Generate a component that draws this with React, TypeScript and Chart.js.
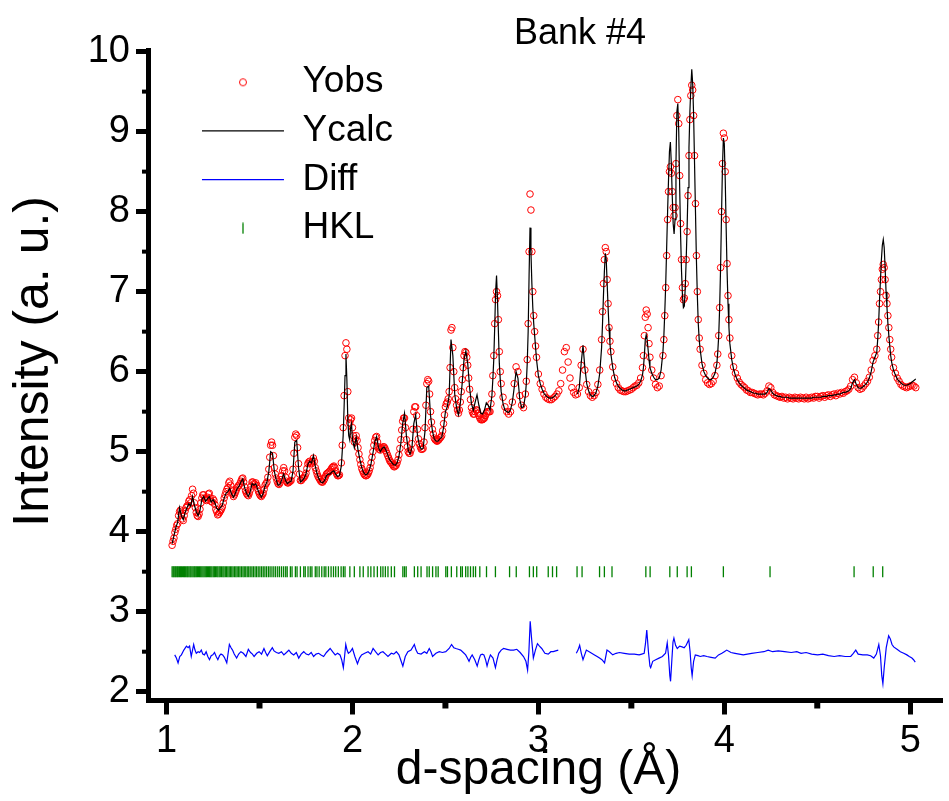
import { useEffect, useRef } from 'react';
import { Chart, registerables } from 'chart.js';

Chart.register(...registerables);

// d-spacing grid (Å) shared by observed and calculated profiles
const dSpacing = [
  1.03, 1.04, 1.05, 1.06, 1.07, 1.08, 1.09, 1.10, 1.11, 1.12,
  1.13, 1.14, 1.15, 1.16, 1.17, 1.18, 1.19, 1.20, 1.21, 1.22,
  1.23, 1.24, 1.25, 1.26, 1.27, 1.28, 1.29, 1.30, 1.31, 1.32,
  1.33, 1.34, 1.35, 1.36, 1.37, 1.38, 1.39, 1.40, 1.41, 1.42,
  1.43, 1.44, 1.45, 1.46, 1.47, 1.48, 1.49, 1.50, 1.51, 1.52,
  1.53, 1.54, 1.55, 1.56, 1.57, 1.58, 1.59, 1.60, 1.61, 1.62,
  1.63, 1.64, 1.65, 1.66, 1.67, 1.68, 1.69, 1.70, 1.71, 1.72,
  1.73, 1.74, 1.75, 1.76, 1.77, 1.78, 1.79, 1.80, 1.81, 1.82,
  1.83, 1.84, 1.85, 1.86, 1.87, 1.88, 1.89, 1.90, 1.91, 1.92,
  1.93, 1.94, 1.945, 1.95, 1.955, 1.96, 1.965, 1.97, 1.975, 1.98,
  1.985, 1.99, 1.995, 2.00, 2.01, 2.02, 2.03, 2.04, 2.05, 2.06,
  2.07, 2.08, 2.09, 2.10, 2.11, 2.12, 2.13, 2.14, 2.15, 2.16,
  2.17, 2.18, 2.19, 2.20, 2.21, 2.22, 2.23, 2.24, 2.25, 2.26,
  2.27, 2.28, 2.29, 2.30, 2.31, 2.32, 2.33, 2.34, 2.35, 2.36,
  2.37, 2.38, 2.39, 2.40, 2.41, 2.42, 2.43, 2.44, 2.45, 2.46,
  2.47, 2.48, 2.49, 2.50, 2.51, 2.52, 2.53, 2.54, 2.55, 2.56,
  2.57, 2.58, 2.59, 2.60, 2.61, 2.62, 2.63, 2.64, 2.65, 2.66,
  2.67, 2.68, 2.69, 2.70, 2.71, 2.72, 2.73, 2.74, 2.75, 2.755,
  2.76, 2.765, 2.77, 2.775, 2.78, 2.785, 2.79, 2.795, 2.80, 2.81,
  2.82, 2.83, 2.84, 2.85, 2.86, 2.87, 2.88, 2.89, 2.90, 2.91,
  2.92, 2.93, 2.935, 2.94, 2.945, 2.95, 2.955, 2.96, 2.965, 2.97,
  2.975, 2.98, 2.985, 2.99, 3.00, 3.01, 3.02, 3.03, 3.04, 3.05,
  3.06, 3.07, 3.08, 3.09, 3.10, 3.11, 3.12, 3.13, 3.14, 3.15,
  3.16, 3.17, 3.18, 3.19, 3.20, 3.21, 3.22, 3.23, 3.24, 3.25,
  3.26, 3.27, 3.28, 3.29, 3.30, 3.31, 3.32, 3.33, 3.34, 3.345,
  3.35, 3.355, 3.36, 3.365, 3.37, 3.375, 3.38, 3.385, 3.39, 3.40,
  3.41, 3.42, 3.43, 3.44, 3.45, 3.46, 3.47, 3.48, 3.49, 3.50,
  3.51, 3.52, 3.53, 3.54, 3.55, 3.56, 3.565, 3.57, 3.575, 3.58,
  3.585, 3.59, 3.595, 3.60, 3.61, 3.62, 3.63, 3.64, 3.65, 3.66,
  3.67, 3.675, 3.68, 3.685, 3.69, 3.695, 3.70, 3.705, 3.71, 3.715,
  3.72, 3.725, 3.73, 3.735, 3.74, 3.745, 3.75, 3.755, 3.76, 3.765,
  3.77, 3.775, 3.78, 3.785, 3.79, 3.795, 3.80, 3.805, 3.81, 3.815,
  3.82, 3.825, 3.83, 3.835, 3.84, 3.845, 3.85, 3.855, 3.86, 3.865,
  3.87, 3.88, 3.89, 3.90, 3.91, 3.92, 3.93, 3.94, 3.95, 3.96,
  3.965, 3.97, 3.975, 3.98, 3.985, 3.99, 3.995, 4.00, 4.005, 4.01,
  4.015, 4.02, 4.025, 4.03, 4.04, 4.05, 4.06, 4.07, 4.08, 4.09,
  4.10, 4.11, 4.12, 4.13, 4.14, 4.15, 4.16, 4.17, 4.18, 4.19,
  4.20, 4.21, 4.22, 4.23, 4.24, 4.25, 4.26, 4.27, 4.28, 4.29,
  4.30, 4.31, 4.32, 4.33, 4.34, 4.35, 4.36, 4.37, 4.38, 4.39,
  4.40, 4.41, 4.42, 4.43, 4.44, 4.45, 4.46, 4.47, 4.48, 4.49,
  4.50, 4.51, 4.52, 4.53, 4.54, 4.55, 4.56, 4.57, 4.58, 4.59,
  4.60, 4.61, 4.62, 4.63, 4.64, 4.65, 4.66, 4.67, 4.68, 4.69,
  4.70, 4.71, 4.72, 4.73, 4.74, 4.75, 4.76, 4.77, 4.78, 4.79,
  4.80, 4.81, 4.82, 4.825, 4.83, 4.835, 4.84, 4.845, 4.85, 4.855,
  4.86, 4.865, 4.87, 4.875, 4.88, 4.885, 4.89, 4.895, 4.90, 4.91,
  4.92, 4.93, 4.94, 4.95, 4.96, 4.97, 4.98, 4.99, 5.00, 5.01,
  5.02, 5.03,
];

// observed intensity (a. u.) on the shared grid
const yObs = [
  3.83, 3.92, 4.03, 4.10, 4.25, 4.22, 4.14, 4.26, 4.32, 4.38,
  4.36, 4.53, 4.36, 4.24, 4.19, 4.28, 4.42, 4.46, 4.40, 4.43,
  4.48, 4.38, 4.41, 4.34, 4.25, 4.22, 4.26, 4.31, 4.42, 4.50,
  4.55, 4.63, 4.52, 4.44, 4.49, 4.55, 4.58, 4.63, 4.67, 4.56,
  4.48, 4.45, 4.52, 4.62, 4.60, 4.61, 4.54, 4.47, 4.44, 4.48,
  4.58, 4.62, 4.78, 5.08, 5.08, 4.80, 4.67, 4.60, 4.61, 4.70,
  4.80, 4.68, 4.61, 4.62, 4.64, 4.78, 5.18, 5.20, 4.85, 4.64,
  4.66, 4.68, 4.73, 4.85, 4.88, 4.85, 4.92, 4.80, 4.72, 4.67,
  4.63, 4.62, 4.66, 4.72, 4.74, 4.76, 4.80, 4.82, 4.76, 4.70,
  4.71, 4.86, 5.08, 5.30, 5.70, 6.20, 6.36, 6.28, 5.75, 5.42,
  5.36, 5.40, 5.42, 5.30, 5.12, 5.20, 5.05, 4.90, 4.79, 4.73,
  4.70, 4.71, 4.76, 4.86, 5.00, 5.14, 5.19, 5.06, 5.02, 5.05,
  5.06, 5.01, 4.95, 4.89, 4.86, 4.82, 4.82, 4.86, 4.96, 5.15,
  5.38, 5.42, 5.15, 5.00, 4.98, 5.10, 5.50, 5.56, 5.28, 5.10,
  5.03, 5.04, 5.30, 5.85, 5.88, 5.50, 5.28, 5.17, 5.14, 5.14,
  5.17, 5.20, 5.35, 5.56, 5.62, 5.75, 6.52, 6.30, 5.80, 5.58,
  5.48, 5.62, 5.90, 6.20, 6.24, 6.08, 5.78, 5.55, 5.47, 5.50,
  5.52, 5.45, 5.40, 5.40, 5.42, 5.48, 5.50, 5.50, 5.72, 5.95,
  6.20, 6.60, 6.90, 7.00, 6.95, 6.65, 6.25, 6.00, 5.85, 5.68,
  5.56, 5.50, 5.47, 5.50, 5.62, 5.85, 6.06, 6.00, 5.70, 5.58,
  5.55, 5.72, 5.88, 6.15, 6.60, 7.50, 8.22, 8.02, 7.50, 7.00,
  6.70, 6.50, 6.32, 6.18, 5.97, 5.85, 5.78, 5.72, 5.68, 5.66,
  5.65, 5.65, 5.67, 5.69, 5.72, 5.76, 5.85, 6.02, 6.25, 6.30,
  6.12, 5.92, 5.80, 5.74, 5.71, 5.72, 5.80, 6.08, 6.28, 6.02,
  5.84, 5.75, 5.70, 5.68, 5.70, 5.74, 5.84, 6.02, 6.40, 6.75,
  7.10, 7.40, 7.55, 7.50, 7.15, 6.85, 6.55, 6.38, 6.25, 6.06,
  5.92, 5.85, 5.80, 5.77, 5.76, 5.75, 5.75, 5.76, 5.77, 5.78,
  5.80, 5.82, 5.83, 5.86, 5.92, 6.05, 6.20, 6.45, 6.68, 6.77,
  6.72, 6.55, 6.35, 6.18, 6.02, 5.92, 5.84, 5.80, 5.82, 5.95,
  6.20, 6.40, 6.70, 7.05, 7.45, 7.90, 8.25, 8.50, 8.56, 8.48,
  8.25, 8.05, 7.95, 8.05, 8.60, 9.20, 9.40, 9.10, 8.45, 7.85,
  7.40, 7.05, 6.90, 6.92, 7.10, 7.40, 7.75, 8.20, 8.70, 9.15,
  9.45, 9.58, 9.52, 9.20, 8.70, 8.10, 7.45, 7.00, 6.65, 6.42,
  6.28, 6.08, 5.98, 5.90, 5.86, 5.84, 5.85, 5.88, 5.95, 6.08,
  6.22, 6.45, 6.80, 7.30, 8.00, 8.60, 8.98, 8.92, 8.50, 7.90,
  7.35, 6.95, 6.65, 6.42, 6.20, 6.06, 5.98, 5.92, 5.87, 5.84,
  5.82, 5.80, 5.77, 5.76, 5.74, 5.74, 5.73, 5.72, 5.71, 5.72,
  5.72, 5.71, 5.73, 5.76, 5.82, 5.80, 5.74, 5.71, 5.70, 5.69,
  5.68, 5.69, 5.67, 5.68, 5.66, 5.68, 5.67, 5.66, 5.68, 5.67,
  5.66, 5.68, 5.67, 5.66, 5.68, 5.66, 5.67, 5.68, 5.67, 5.69,
  5.69, 5.67, 5.69, 5.70, 5.68, 5.70, 5.71, 5.69, 5.71, 5.72,
  5.70, 5.73, 5.72, 5.74, 5.73, 5.75, 5.76, 5.78, 5.82, 5.90,
  5.93, 5.86, 5.80, 5.78, 5.79, 5.82, 5.85, 5.88, 5.93, 6.02,
  6.14, 6.20, 6.28, 6.45, 6.62, 6.85, 7.00, 7.15, 7.28, 7.34,
  7.30, 7.15, 6.95, 6.85, 6.70, 6.55, 6.40, 6.28, 6.18, 6.05,
  5.98, 5.92, 5.88, 5.84, 5.82, 5.81, 5.80, 5.81, 5.82, 5.83,
  5.82, 5.80,
];

// additional observed points read in the dense low-d part of the pattern
const dObsFine = [
  1.035, 1.045, 1.055, 1.065, 1.075, 1.085, 1.095, 1.105, 1.115, 1.125,
  1.135, 1.145, 1.155, 1.165, 1.175, 1.185, 1.195, 1.205, 1.215, 1.225,
  1.235, 1.245, 1.255, 1.265, 1.275, 1.285, 1.295, 1.305, 1.315, 1.325,
  1.335, 1.345, 1.355, 1.365, 1.375, 1.385, 1.395, 1.405, 1.415, 1.425,
  1.435, 1.445, 1.455, 1.465, 1.475, 1.485, 1.495, 1.505, 1.515, 1.525,
  1.535, 1.545, 1.555, 1.565, 1.575, 1.585, 1.595, 1.605, 1.615, 1.625,
  1.635, 1.645, 1.655, 1.665, 1.675, 1.685, 1.695, 1.705, 1.715, 1.725,
  1.735, 1.745, 1.755, 1.765, 1.775, 1.785, 1.795, 1.805, 1.815, 1.825,
  1.835, 1.845, 1.855, 1.865, 1.875, 1.885, 1.895, 1.905, 1.915, 1.925,
  2.005, 2.015, 2.025, 2.035, 2.045, 2.055, 2.065, 2.075, 2.085, 2.095,
  2.105, 2.115, 2.125, 2.135, 2.145, 2.155, 2.165, 2.175, 2.185, 2.195,
  2.205, 2.215, 2.225, 2.235, 2.245, 2.255, 2.265, 2.275, 2.285, 2.295,
  2.305, 2.315, 2.325, 2.335, 2.345, 2.355, 2.365, 2.375, 2.385, 2.395,
  2.405, 2.415, 2.425, 2.435, 2.445, 2.455, 2.465, 2.475, 2.485, 2.495,
  2.505, 2.515, 2.525, 2.535, 2.545, 2.555, 2.565, 2.575, 2.585, 2.595,
  2.605, 2.615, 2.625, 2.635, 2.645, 2.655, 2.665, 2.675, 2.685, 2.695,
  2.705, 2.715, 2.725, 2.735, 2.745,
];
const yObsFine = [
  3.88, 3.99, 4.08, 4.20, 4.27, 4.16, 4.20, 4.30, 4.33, 4.40,
  4.45, 4.48, 4.30, 4.20, 4.22, 4.36, 4.46, 4.42, 4.39, 4.47,
  4.42, 4.37, 4.39, 4.28, 4.21, 4.24, 4.28, 4.36, 4.46, 4.53,
  4.61, 4.58, 4.47, 4.46, 4.52, 4.57, 4.60, 4.66, 4.62, 4.51,
  4.46, 4.48, 4.57, 4.62, 4.59, 4.58, 4.50, 4.45, 4.46, 4.53,
  4.60, 4.68, 4.93, 5.12, 4.95, 4.72, 4.63, 4.59, 4.65, 4.76,
  4.76, 4.63, 4.61, 4.63, 4.70, 4.98, 5.22, 5.05, 4.72, 4.64,
  4.67, 4.70, 4.79, 4.87, 4.86, 4.88, 4.88, 4.76, 4.69, 4.65,
  4.62, 4.64, 4.69, 4.73, 4.75, 4.78, 4.81, 4.80, 4.72, 4.70,
  5.20, 5.16, 5.14, 4.97, 4.84, 4.76, 4.71, 4.70, 4.73, 4.80,
  4.93, 5.08, 5.18, 5.12, 5.03, 5.04, 5.06, 5.04, 4.98, 4.92,
  4.87, 4.84, 4.81, 4.83, 4.90, 5.04, 5.27, 5.42, 5.30, 5.06,
  4.98, 5.02, 5.28, 5.56, 5.45, 5.16, 5.06, 5.03, 5.12, 5.58,
  5.90, 5.72, 5.37, 5.22, 5.15, 5.13, 5.15, 5.18, 5.26, 5.46,
  5.60, 5.66, 6.05, 6.55, 6.00, 5.66, 5.52, 5.52, 5.75, 6.05,
  6.25, 6.18, 5.92, 5.65, 5.50, 5.47, 5.52, 5.48, 5.42, 5.40,
  5.41, 5.45, 5.50, 5.50, 5.60,
];

// calculated intensity (a. u.); null where the region is excluded
const yCalc = [
  3.85, 3.95, 4.05, 4.12, 4.30, 4.20, 4.15, 4.24, 4.30, 4.35,
  4.32, 4.44, 4.33, 4.25, 4.20, 4.27, 4.40, 4.44, 4.38, 4.41,
  4.44, 4.37, 4.40, 4.36, 4.29, 4.27, 4.30, 4.33, 4.42, 4.48,
  4.50, 4.54, 4.47, 4.43, 4.48, 4.54, 4.57, 4.62, 4.66, 4.55,
  4.48, 4.44, 4.50, 4.60, 4.58, 4.60, 4.53, 4.47, 4.43, 4.48,
  4.57, 4.62, 4.75, 5.00, 4.98, 4.75, 4.65, 4.58, 4.59, 4.65,
  4.72, 4.64, 4.60, 4.62, 4.63, 4.75, 5.12, 5.14, 4.80, 4.62,
  4.64, 4.67, 4.72, 4.84, 4.88, 4.86, 4.95, 4.82, 4.72, 4.66,
  4.62, 4.61, 4.64, 4.70, 4.72, 4.72, 4.75, 4.76, 4.72, 4.69,
  4.70, 4.82, 5.00, 5.20, 5.55, 5.95, 6.22, 5.90, 5.40, 5.20,
  5.15, 5.30, 5.35, 5.15, 5.05, 5.18, 5.02, 4.90, 4.80, 4.74,
  4.71, 4.72, 4.76, 4.85, 4.98, 5.12, 5.19, 5.05, 5.00, 5.04,
  5.06, 5.02, 4.96, 4.90, 4.87, 4.84, 4.83, 4.86, 4.94, 5.10,
  5.35, 5.48, 5.20, 5.02, 4.97, 5.05, 5.35, 5.46, 5.20, 5.08,
  5.03, 5.04, 5.25, 5.80, 5.82, 5.45, 5.26, 5.16, 5.13, 5.13,
  5.16, 5.18, 5.30, 5.50, 5.56, 5.70, 6.40, 6.20, 5.72, 5.55,
  5.46, 5.60, 5.85, 6.15, 6.26, 6.10, 5.80, 5.60, 5.52, 5.62,
  5.71, 5.58, 5.48, 5.47, 5.52, 5.61, 5.58, 5.52, 5.70, 5.90,
  6.15, 6.55, 7.00, 7.20, 6.90, 6.50, 6.10, 5.90, 5.75, 5.60,
  5.52, 5.50, 5.49, 5.52, 5.62, 5.80, 6.00, 5.92, 5.65, 5.55,
  5.56, 5.70, 5.85, 6.10, 6.50, 7.20, 7.80, 7.50, 7.10, 6.80,
  6.60, 6.45, 6.30, 6.15, 5.95, 5.85, 5.78, 5.73, 5.70, 5.68,
  5.67, 5.67, 5.68, 5.70, 5.73, null, null, null, null, null,
  null, null, null, null, null, 5.72, 5.80, 6.10, 6.33, 6.05,
  5.85, 5.76, 5.71, 5.69, 5.70, 5.74, 5.82, 5.98, 6.30, 6.60,
  6.95, 7.25, 7.48, 7.40, 7.10, 6.80, 6.55, 6.35, 6.22, 6.05,
  5.93, 5.86, 5.82, 5.79, 5.77, 5.76, 5.76, 5.77, 5.78, 5.79,
  5.80, 5.81, 5.82, 5.84, 5.88, 5.96, 6.05, 6.20, 6.40, 6.46,
  6.40, 6.28, 6.15, 6.05, 5.98, 5.93, 5.90, 5.90, 5.92, 6.02,
  6.25, 6.45, 6.75, 7.10, 7.55, 8.00, 8.40, 8.75, 8.87, 8.60,
  8.20, 7.85, 7.72, 7.90, 8.60, 9.25, 9.35, 9.00, 8.30, 7.70,
  7.25, 6.95, 6.80, 6.82, 7.05, 7.40, 7.80, 8.30, 8.80, 9.25,
  9.55, 9.78, 9.60, 9.20, 8.60, 8.00, 7.40, 6.95, 6.60, 6.40,
  6.28, 6.10, 6.00, 5.95, 5.92, 5.90, 5.90, 5.93, 5.98, 6.10,
  6.25, 6.45, 6.80, 7.30, 7.95, 8.55, 8.92, 8.85, 8.40, 7.80,
  7.25, 6.85, 6.55, 6.35, 6.15, 6.03, 5.95, 5.90, 5.86, 5.83,
  5.81, 5.79, 5.77, 5.76, 5.75, 5.74, 5.73, 5.73, 5.72, 5.72,
  5.72, 5.72, 5.72, 5.74, 5.79, 5.77, 5.73, 5.71, 5.70, 5.69,
  5.69, 5.68, 5.68, 5.68, 5.68, 5.67, 5.67, 5.67, 5.67, 5.67,
  5.67, 5.67, 5.67, 5.67, 5.67, 5.67, 5.67, 5.67, 5.68, 5.68,
  5.68, 5.68, 5.68, 5.69, 5.69, 5.69, 5.70, 5.70, 5.70, 5.71,
  5.71, 5.72, 5.72, 5.73, 5.74, 5.74, 5.75, 5.76, 5.79, 5.86,
  5.90, 5.84, 5.80, 5.79, 5.80, 5.82, 5.84, 5.87, 5.92, 6.00,
  6.12, 6.18, 6.24, 6.40, 6.60, 6.90, 7.15, 7.40, 7.58, 7.65,
  7.55, 7.30, 7.00, 6.80, 6.60, 6.45, 6.32, 6.20, 6.12, 6.02,
  5.96, 5.91, 5.88, 5.86, 5.84, 5.83, 5.83, 5.84, 5.85, 5.87,
  5.89, 5.91,
];

// difference curve (offset), with its own d positions; null marks the excluded gap
const diffD = [
  1.044, 1.053, 1.062, 1.071, 1.080, 1.093, 1.107, 1.116, 1.124, 1.133,
  1.146, 1.153, 1.160, 1.170, 1.178, 1.187, 1.195, 1.204, 1.213, 1.222,
  1.231, 1.240, 1.249, 1.258, 1.267, 1.276, 1.285, 1.293, 1.302, 1.311,
  1.324, 1.338, 1.347, 1.355, 1.364, 1.377, 1.388, 1.400, 1.413, 1.427,
  1.440, 1.452, 1.462, 1.471, 1.485, 1.498, 1.511, 1.524, 1.533, 1.542,
  1.555, 1.569, 1.578, 1.591, 1.604, 1.618, 1.631, 1.645, 1.658, 1.671,
  1.684, 1.698, 1.711, 1.724, 1.738, 1.751, 1.764, 1.778, 1.791, 1.804,
  1.818, 1.831, 1.845, 1.860, 1.880, 1.893, 1.907, 1.920, 1.933, 1.942,
  1.951, 1.958, 1.964, 1.971, 1.978, 1.989, 2.000, 2.013, 2.027, 2.038,
  2.049, 2.066, 2.084, 2.098, 2.111, 2.124, 2.138, 2.151, 2.164, 2.178,
  2.191, 2.209, 2.222, 2.236, 2.250, 2.262, 2.271, 2.284, 2.298, 2.315,
  2.333, 2.342, 2.351, 2.369, 2.387, 2.400, 2.413, 2.422, 2.431, 2.449,
  2.467, 2.484, 2.502, 2.520, 2.533, 2.545, 2.556, 2.569, 2.582, 2.596,
  2.609, 2.618, 2.627, 2.636, 2.644, 2.658, 2.671, 2.680, 2.689, 2.698,
  2.707, 2.716, 2.724, 2.733, 2.742, 2.756, 2.769, 2.778, 2.787, 2.800,
  2.813, 2.831, 2.849, 2.867, 2.884, 2.902, 2.920, 2.933, 2.942, 2.949,
  2.956, 2.964, 2.973, 2.984, 2.995, 3.006, 3.018, 3.035, 3.053, 3.067,
  3.080, 3.093, 3.107, 3.150, 3.204, 3.213, 3.222, 3.231, 3.240, 3.249,
  3.258, 3.280, 3.302, 3.316, 3.329, 3.342, 3.356, 3.369, 3.382, 3.400,
  3.418, 3.436, 3.462, 3.489, 3.516, 3.542, 3.556, 3.569, 3.576, 3.583,
  3.592, 3.600, 3.604, 3.615, 3.631, 3.649, 3.667, 3.684, 3.693, 3.700,
  3.707, 3.711, 3.718, 3.724, 3.729, 3.738, 3.747, 3.760, 3.773, 3.784,
  3.795, 3.803, 3.809, 3.816, 3.822, 3.827, 3.835, 3.844, 3.858, 3.871,
  3.889, 3.907, 3.929, 3.951, 3.969, 3.987, 4.000, 4.013, 4.036, 4.058,
  4.080, 4.102, 4.124, 4.147, 4.180, 4.213, 4.236, 4.260, 4.290, 4.324,
  4.360, 4.390, 4.413, 4.440, 4.470, 4.502, 4.530, 4.560, 4.591, 4.620,
  4.650, 4.680, 4.694, 4.707, 4.720, 4.745, 4.769, 4.787, 4.804, 4.818,
  4.831, 4.840, 4.847, 4.853, 4.860, 4.871, 4.884, 4.893, 4.902, 4.911,
  4.929, 4.947, 4.965, 4.982, 4.995, 5.009, 5.018, 5.027,
];
const diffY = [
  2.46, 2.42, 2.36, 2.44, 2.46, 2.52, 2.57, 2.55, 2.57, 2.44,
  2.59, 2.52, 2.48, 2.50, 2.49, 2.52, 2.47, 2.46, 2.50, 2.44,
  2.40, 2.45, 2.46, 2.49, 2.44, 2.40, 2.45, 2.47, 2.46, 2.43,
  2.36, 2.59, 2.55, 2.52, 2.47, 2.42, 2.47, 2.50, 2.48, 2.44,
  2.53, 2.49, 2.47, 2.44, 2.48, 2.50, 2.47, 2.54, 2.49, 2.45,
  2.50, 2.55, 2.51, 2.49, 2.48, 2.50, 2.46, 2.49, 2.52, 2.48,
  2.46, 2.49, 2.42, 2.47, 2.50, 2.47, 2.46, 2.49, 2.44, 2.47,
  2.48, 2.46, 2.44, 2.49, 2.54, 2.50, 2.46, 2.48, 2.46, 2.40,
  2.30, 2.45, 2.59, 2.52, 2.48, 2.50, 2.54, 2.44, 2.35, 2.42,
  2.46, 2.48, 2.50, 2.47, 2.54, 2.50, 2.46, 2.49, 2.50, 2.47,
  2.44, 2.48, 2.47, 2.50, 2.46, 2.38, 2.32, 2.44, 2.50, 2.52,
  2.59, 2.52, 2.48, 2.47, 2.50, 2.48, 2.54, 2.50, 2.44, 2.48,
  2.50, 2.49, 2.50, 2.54, 2.59, 2.55, 2.54, 2.53, 2.52, 2.49,
  2.46, 2.42, 2.38, 2.43, 2.46, 2.40, 2.32, 2.40, 2.46, 2.47,
  2.46, 2.40, 2.32, 2.40, 2.46, 2.42, 2.30, 2.40, 2.48, 2.52,
  2.54, 2.53, 2.52, 2.52, 2.53, 2.49, 2.44, 2.38, 2.27, 2.50,
  2.88, 2.65, 2.42, 2.52, 2.60, 2.57, 2.54, 2.48, 2.47, 2.50,
  2.50, 2.51, 2.52, null, 2.48, 2.52, 2.58, 2.48, 2.40, 2.46,
  2.52, 2.49, 2.46, 2.44, 2.42, 2.40, 2.36, 2.52, 2.50, 2.46,
  2.48, 2.49, 2.48, 2.47, 2.47, 2.46, 2.47, 2.48, 2.60, 2.77,
  2.50, 2.32, 2.30, 2.38, 2.40, 2.42, 2.44, 2.48, 2.61, 2.45,
  2.20, 2.13, 2.40, 2.62, 2.67, 2.58, 2.54, 2.57, 2.56, 2.55,
  2.58, 2.62, 2.65, 2.50, 2.30, 2.20, 2.38, 2.46, 2.45, 2.44,
  2.45, 2.44, 2.43, 2.42, 2.46, 2.48, 2.50, 2.52, 2.49, 2.48,
  2.47, 2.46, 2.47, 2.48, 2.49, 2.50, 2.52, 2.50, 2.51, 2.50,
  2.49, 2.50, 2.48, 2.49, 2.47, 2.46, 2.47, 2.45, 2.44, 2.45,
  2.44, 2.44, 2.48, 2.52, 2.47, 2.46, 2.46, 2.45, 2.42, 2.47,
  2.59, 2.45, 2.20, 2.10, 2.30, 2.55, 2.70, 2.66, 2.59, 2.56,
  2.53, 2.50, 2.48, 2.46, 2.44, 2.42, 2.40, 2.37,
];

// reflection (HKL) positions, drawn as ticks at a fixed level
const hklD = [
  1.030, 1.036, 1.041, 1.047, 1.052, 1.058, 1.063, 1.069, 1.075, 1.080,
  1.086, 1.092, 1.097, 1.103, 1.109, 1.114, 1.120, 1.126, 1.131, 1.137,
  1.143, 1.149, 1.154, 1.160, 1.166, 1.172, 1.178, 1.184, 1.190, 1.196,
  1.202, 1.208, 1.214, 1.220, 1.226, 1.232, 1.238, 1.244, 1.251, 1.257,
  1.263, 1.270, 1.276, 1.283, 1.289, 1.296, 1.303, 1.309, 1.316, 1.323,
  1.330, 1.337, 1.344, 1.351, 1.358, 1.366, 1.373, 1.380, 1.388, 1.395,
  1.403, 1.411, 1.418, 1.426, 1.434, 1.442, 1.450, 1.459, 1.467, 1.476,
  1.484, 1.493, 1.502, 1.511, 1.520, 1.529, 1.538, 1.548, 1.557, 1.567,
  1.577, 1.587, 1.598, 1.608, 1.619, 1.630, 1.641, 1.649, 1.666, 1.675,
  1.693, 1.702, 1.720, 1.738, 1.746, 1.761, 1.773, 1.782, 1.800, 1.809,
  1.821, 1.835, 1.848, 1.857, 1.871, 1.885, 1.898, 1.910, 1.924, 1.939,
  1.951, 1.960, 1.986, 2.010, 2.040, 2.058, 2.084, 2.099, 2.116, 2.134,
  2.152, 2.164, 2.177, 2.191, 2.209, 2.226, 2.271, 2.280, 2.289, 2.333,
  2.351, 2.369, 2.401, 2.413, 2.431, 2.449, 2.461, 2.502, 2.511, 2.532,
  2.561, 2.582, 2.591, 2.609, 2.621, 2.635, 2.650, 2.662, 2.685, 2.721,
  2.769, 2.845, 2.881, 2.952, 2.973, 2.991, 3.053, 3.076, 3.098, 3.208,
  3.235, 3.329, 3.355, 3.396, 3.578, 3.601, 3.707, 3.747, 3.800, 3.823,
  3.995, 4.246, 4.698, 4.801, 4.852,
];
const hklLevel = 3.5;

const xMinorTicks = [1.5, 2.5, 3.5, 4.5];
const yMinorTicks = [2.5, 3.5, 4.5, 5.5, 6.5, 7.5, 8.5, 9.5];

const FONT = "'Liberation Sans', Arial, Helvetica, sans-serif";

function makeGlyph(w: number, h: number, draw: (c: CanvasRenderingContext2D) => void) {
  const cv = document.createElement('canvas');
  cv.width = w;
  cv.height = h;
  const c = cv.getContext('2d');
  if (c) draw(c);
  return cv;
}

export default function App() {
  const canvasRef = useRef<HTMLCanvasElement | null>(null);

  useEffect(() => {
    const canvas = canvasRef.current;
    if (!canvas) return;
    Chart.defaults.font.family = FONT;
    Chart.defaults.color = '#000';

    const obsData = dSpacing
      .map((d, i) => ({ x: d, y: yObs[i] }))
      .concat(dObsFine.map((d, i) => ({ x: d, y: yObsFine[i] })))
      .sort((a, b) => a.x - b.x);
    const calcData = dSpacing.map((d, i) => ({ x: d, y: yCalc[i] }));
    const diffData = diffD.map((d, i) => ({ x: d, y: diffY[i] }));
    const hklData = hklD.map((d) => ({ x: d, y: hklLevel }));

    // legend glyphs (circle for observed points, vertical tick for reflections)
    const obsMarker = makeGlyph(10, 10, (c) => {
      c.strokeStyle = 'rgb(255,0,0)';
      c.lineWidth = 1;
      c.beginPath();
      c.arc(5, 5, 3.5, 0, Math.PI * 2);
      c.stroke();
    });
    const hklMarker = makeGlyph(4, 12, (c) => {
      c.strokeStyle = 'rgb(0,128,0)';
      c.lineWidth = 1.3;
      c.beginPath();
      c.moveTo(2, 0.5);
      c.lineTo(2, 11.5);
      c.stroke();
    });

    const placeBoxes = {
      id: 'placeBoxes',
      afterLayout(chart: any) {
        const ca = chart.chartArea;
        if (chart.legend) {
          chart.legend.left = ca.left + 42.3;
          chart.legend.top = ca.top + 2.1;
        }
        if (chart.titleBlock) {
          chart.titleBlock.left = 480;
          chart.titleBlock.right = 680;
        }
      },
    };

    const minorTicks = {
      id: 'minorTicks',
      afterDraw(chart: any) {
        const { ctx, chartArea } = chart;
        const xs = chart.scales.x;
        const ys = chart.scales.y;
        ctx.save();
        ctx.strokeStyle = '#000';
        ctx.lineWidth = 6;
        for (const v of xMinorTicks) {
          const px = xs.getPixelForValue(v);
          ctx.beginPath();
          ctx.moveTo(px, chartArea.bottom);
          ctx.lineTo(px, chartArea.bottom + 8);
          ctx.stroke();
        }
        ctx.lineWidth = 4;
        for (const v of yMinorTicks) {
          const py = ys.getPixelForValue(v);
          ctx.beginPath();
          ctx.moveTo(chartArea.left, py);
          ctx.lineTo(chartArea.left - 6, py);
          ctx.stroke();
        }
        ctx.restore();
      },
    };

    const chart = new Chart(canvas, {
      type: 'scatter',
      data: {
        datasets: [
          {
            label: 'Yobs',
            data: obsData,
            showLine: false,
            pointStyle: 'circle',
            pointRadius: 3.3,
            borderWidth: 1,
            borderColor: 'rgb(255,0,0)',
            backgroundColor: 'rgba(0,0,0,0)',
            order: 3,
          },
          {
            label: 'Ycalc',
            data: calcData,
            showLine: true,
            spanGaps: false,
            pointRadius: 0,
            pointStyle: 'line',
            borderWidth: 1.2,
            borderColor: '#000',
            backgroundColor: '#000',
            order: 2,
          },
          {
            label: 'Diff',
            data: diffData,
            showLine: true,
            spanGaps: false,
            pointRadius: 0,
            pointStyle: 'line',
            borderWidth: 1.2,
            borderColor: 'rgb(0,0,255)',
            backgroundColor: 'rgb(0,0,255)',
            order: 1,
          },
          {
            label: 'HKL',
            data: hklData,
            showLine: false,
            pointStyle: 'line',
            pointRotation: 90,
            pointRadius: 5.5,
            borderWidth: 1.3,
            borderColor: 'rgb(0,128,0)',
            backgroundColor: 'rgb(0,128,0)',
            order: 0,
          },
        ],
      },
      options: {
        responsive: false,
        devicePixelRatio: 1,
        animation: false,
        events: [],
        layout: { padding: 0 },
        scales: {
          x: {
            type: 'linear',
            position: 'bottom',
            min: 0.9003,
            max: 5.172,
            afterFit: (s: any) => {
              s.height = 100.5;
            },
            ticks: {
              stepSize: 1,
              includeBounds: false,
              autoSkip: false,
              maxRotation: 0,
              padding: 4,
              color: '#000',
              font: { size: 38 },
            },
            grid: {
              drawOnChartArea: false,
              drawTicks: true,
              tickLength: 14,
              tickWidth: 5,
              tickColor: '#000',
            },
            border: { display: true, width: 5, color: '#000' },
            title: {
              display: true,
              text: 'd-spacing (Å) ',
              color: '#000',
              font: { size: 48 },
              padding: { top: 0, bottom: 1 },
            },
          },
          y: {
            type: 'linear',
            position: 'left',
            min: 1.89,
            max: 10.02,
            afterFit: (s: any) => {
              s.width = 148;
            },
            ticks: {
              stepSize: 1,
              includeBounds: false,
              padding: 6,
              color: '#000',
              font: { size: 38 },
            },
            grid: {
              drawOnChartArea: false,
              drawTicks: true,
              tickLength: 12,
              tickWidth: 5,
              tickColor: '#000',
            },
            border: { display: true, width: 5, color: '#000' },
            title: {
              display: true,
              text: '  Intensity (a. u.)',
              color: '#000',
              font: { size: 50 },
              padding: { top: 4.4, bottom: 0 },
            },
          },
        },
        plugins: {
          tooltip: { enabled: false },
          title: {
            display: true,
            text: 'Bank #4',
            color: '#000',
            font: { size: 36, weight: 'normal', lineHeight: 1 },
            padding: { top: 16, bottom: -2 },
          },
          legend: {
            display: true,
            position: 'chartArea',
            align: 'start',
            labels: {
              color: '#000',
              font: { size: 37 },
              usePointStyle: true,
              pointStyleWidth: 82,
              boxHeight: 6.5,
              padding: 11.67,
              sort: (a: any, b: any) => a.datasetIndex - b.datasetIndex,
              generateLabels: (c: any) => {
                const items = (Chart.defaults.plugins.legend.labels as any).generateLabels(c);
                return items.map((it: any) => {
                  if (it.datasetIndex === 0) return { ...it, pointStyle: obsMarker, rotation: 0 };
                  if (it.datasetIndex === 3) return { ...it, pointStyle: hklMarker, rotation: 0 };
                  return { ...it, rotation: 0 };
                });
              },
            },
          },
        },
      } as any,
      plugins: [placeBoxes, minorTicks],
    });

    return () => {
      chart.destroy();
    };
  }, []);

  return (
    <div style={{ position: 'absolute', left: 0, top: 0, width: 949, height: 801, background: '#fff' }}>
      <canvas ref={canvasRef} width={949} height={801} style={{ display: 'block', width: 949, height: 801 }} />
    </div>
  );
}
